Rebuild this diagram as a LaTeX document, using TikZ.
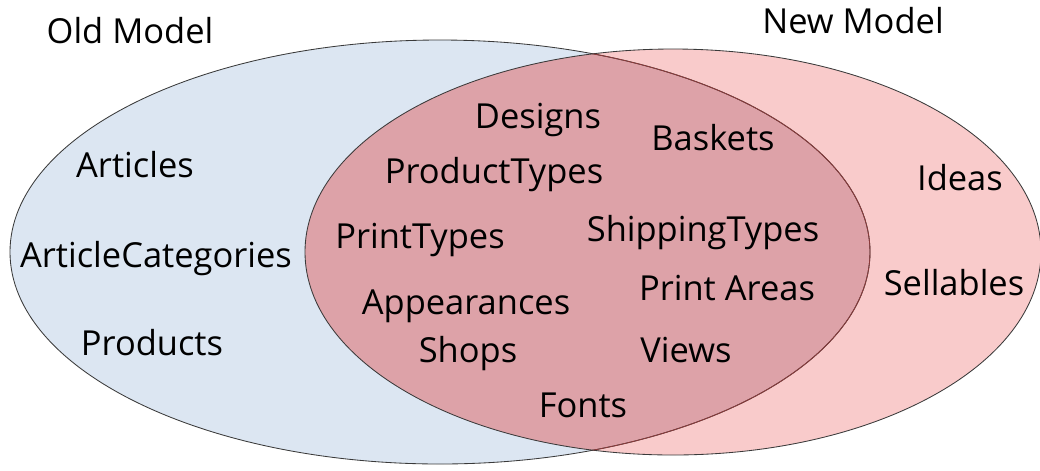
\documentclass[tikz,border=0pt]{standalone}
\usepackage{fontspec}
\setsansfont{Open Sans}
\renewcommand{\familydefault}{\sfdefault}
\usetikzlibrary{positioning}

\definecolor{oldfill}{HTML}{DCE6F2}
\definecolor{newfill}{HTML}{F9CBCB}
\definecolor{bothfill}{HTML}{DDA2A8}
\definecolor{rimline}{HTML}{3A3A3A}
\definecolor{bothline}{HTML}{8B3A3A}

\begin{document}
\begin{tikzpicture}[x=0.025cm, y=-0.025cm,
  lbl/.style={font=\fontsize{24.5}{28}\selectfont, anchor=base, inner sep=0pt},
  rim/.style={draw=rimline, line width=0.6pt},
]
  \useasboundingbox (0,0) rectangle (1040,470);

  % the two sets and their overlap
  \def\oldset{(440,252) ellipse [x radius=430, y radius=212]}
  \def\newset{(673,252) ellipse [x radius=368, y radius=203]}
  \fill[oldfill] \oldset;
  \fill[newfill] \newset;
  \begin{scope}
    \clip \oldset;
    \fill[bothfill] \newset;
  \end{scope}
  \draw[rim] \oldset;
  \draw[rim] \newset;
  \begin{scope}
    \clip \newset;
    \draw[bothline, line width=0.6pt] \oldset;
  \end{scope}

  % set titles
  \node[lbl] (oldtitle) at (130,43) {Old Model};
  \node[lbl] (newtitle) at (853,33) {New Model};

  % only in the old model
  \node[lbl] (articles) at (135,177) {Articles};
  \node[lbl] (artcats)  at (156,267) {ArticleCategories};
  \node[lbl] (products) at (152,355) {Products};

  % shared by both
  \node[lbl] (designs)   at (538,128) {Designs};
  \node[lbl] (baskets)   at (713,150) {Baskets};
  \node[lbl] (prodtypes) at (494,183) {ProductTypes};
  \node[lbl] (printtypes) at (420,248) {PrintTypes};
  \node[lbl] (shiptypes) at (703,241) {ShippingTypes};
  \node[lbl] (printareas) at (727,300) {Print Areas};
  \node[lbl] (appear)    at (466,314) {Appearances};
  \node[lbl] (shops)     at (468,362) {Shops};
  \node[lbl] (views)     at (686,362) {Views};
  \node[lbl] (fonts)     at (583,417) {Fonts};

  % only in the new model
  \node[lbl] (ideas)     at (960,190) {Ideas};
  \node[lbl] (sellables) at (954,295) {Sellables};
\end{tikzpicture}
\end{document}
